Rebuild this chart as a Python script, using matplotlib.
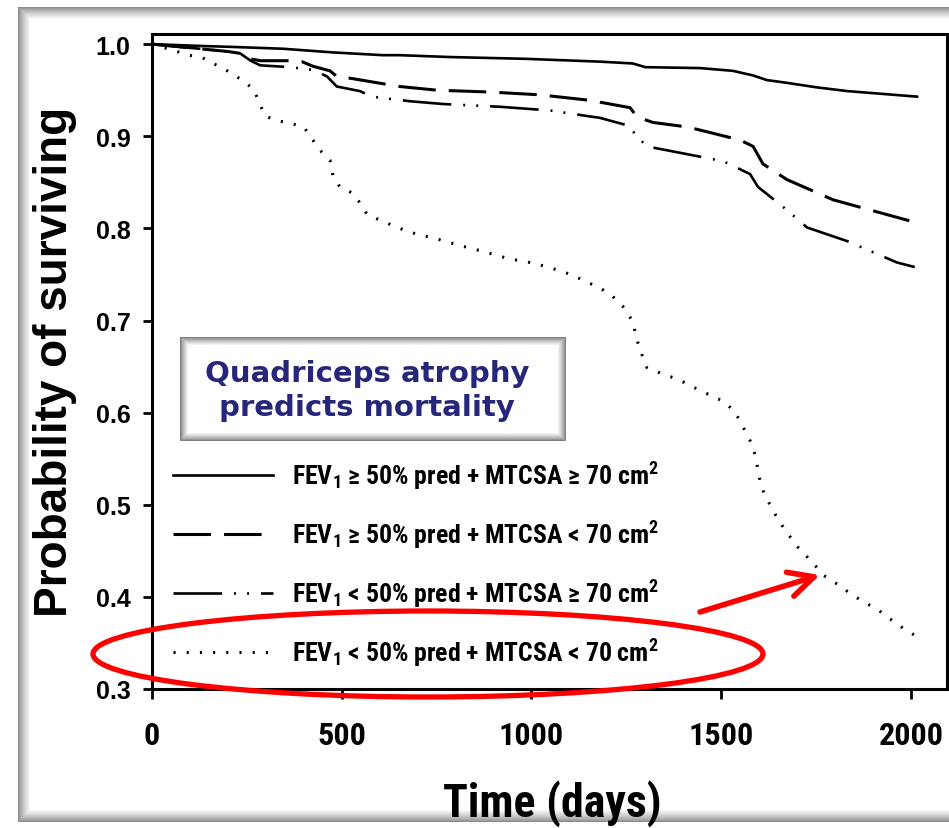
import os
import matplotlib
matplotlib.use("Agg")
import matplotlib.pyplot as plt
from matplotlib import font_manager
from matplotlib.patches import Rectangle, Ellipse
from matplotlib.font_manager import FontProperties

# ---- Kaplan-Meier survival estimates (time in days, probability of surviving) ----
t_hi_hi = [0, 130, 210, 345, 477, 609, 653, 785, 988, 1180, 1267, 1300, 1444,
           1531, 1584, 1620, 1673, 1753, 1833, 2016]
s_hi_hi = [1.0, 0.998, 0.997, 0.995, 0.991, 0.988, 0.988, 0.986, 0.984, 0.981,
           0.979, 0.975, 0.974, 0.971, 0.966, 0.961, 0.958, 0.953, 0.949, 0.943]

t_hi_lo = [0, 200, 232, 260, 285, 364, 395, 424, 469, 487, 522, 609, 653, 751,
           891, 1022, 1154, 1260, 1278, 1320, 1412, 1549, 1584, 1610, 1673, 1795, 2016]
s_hi_lo = [1.0, 0.992, 0.990, 0.984, 0.982, 0.982, 0.981, 0.976, 0.971, 0.965,
           0.963, 0.957, 0.954, 0.950, 0.948, 0.945, 0.939, 0.931, 0.921, 0.915,
           0.910, 0.896, 0.889, 0.870, 0.853, 0.831, 0.806]

t_lo_hi = [0, 200, 232, 260, 285, 364, 424, 461, 487, 548, 580, 680, 767, 917,
           1049, 1146, 1180, 1260, 1273, 1304, 1505, 1576, 1597, 1673, 1726, 1833,
           1963, 2010]
s_lo_hi = [1.0, 0.992, 0.990, 0.982, 0.977, 0.975, 0.972, 0.965, 0.954, 0.949,
           0.943, 0.938, 0.935, 0.932, 0.928, 0.922, 0.920, 0.911, 0.902, 0.889,
           0.873, 0.859, 0.845, 0.820, 0.801, 0.786, 0.763, 0.758]

t_lo_lo = [0, 66, 97, 134, 171, 203, 237, 268, 285, 298, 329, 366, 400, 419, 440,
           469, 477, 495, 530, 551, 567, 601, 635, 672, 704, 738, 772, 806, 872,
           941, 1009, 1075, 1110, 1144, 1178, 1212, 1244, 1268, 1275, 1288, 1304,
           1339, 1373, 1407, 1439, 1476, 1507, 1536, 1557, 1578, 1592, 1597, 1607,
           1626, 1647, 1671, 1702, 1739, 1771, 1805, 1839, 1873, 1910, 1942, 1976,
           2011]
s_lo_lo = [1.0, 0.992, 0.988, 0.985, 0.977, 0.970, 0.961, 0.951, 0.934, 0.922,
           0.917, 0.914, 0.910, 0.899, 0.886, 0.874, 0.857, 0.845, 0.838, 0.826,
           0.815, 0.809, 0.803, 0.797, 0.793, 0.790, 0.786, 0.782, 0.775, 0.767,
           0.762, 0.754, 0.749, 0.742, 0.736, 0.727, 0.714, 0.698, 0.683, 0.666,
           0.649, 0.643, 0.638, 0.632, 0.625, 0.618, 0.612, 0.601, 0.585, 0.568,
           0.551, 0.536, 0.518, 0.502, 0.486, 0.471, 0.454, 0.438, 0.423, 0.414,
           0.404, 0.395, 0.387, 0.377, 0.367, 0.358]

group_labels = [
    r"FEV$_1$ ≥ 50% pred + MTCSA ≥ 70 cm$^2$",
    r"FEV$_1$ ≥ 50% pred + MTCSA < 70 cm$^2$",
    r"FEV$_1$ < 50% pred + MTCSA ≥ 70 cm$^2$",
    r"FEV$_1$ < 50% pred + MTCSA < 70 cm$^2$",
]
x_ticks = [0, 500, 1000, 1500, 2000]
y_ticks = [0.3, 0.4, 0.5, 0.6, 0.7, 0.8, 0.9, 1.0]
y_ticklabels = ["0.3", "0.4", "0.5", "0.6", "0.7", "0.8", "0.9", "1.0"]
callout = "Quadriceps atrophy\npredicts mortality"

# ---- fonts: look for a narrow sans face for axis numbers and legend ----
entries = font_manager.fontManager.ttflist


def find_face(patterns):
    for pat in patterns:
        for e in entries:
            if os.path.basename(e.fname).lower() == pat:
                return e
    return None


narrow_bold = find_face(["liberationsansnarrow-bold.ttf",
                         "robotocondensed-bold.ttf",
                         "notosans-condensedbold.ttf",
                         "dejavusanscondensed-bold.ttf",
                         "opensans-condensedbold.ttf",
                         "opensans_condensed-bold.ttf"])


def narrow_font(size):
    if narrow_bold is None:
        return FontProperties(family="Liberation Sans", weight="bold", size=size)
    return FontProperties(fname=narrow_bold.fname, size=size)


math_family = narrow_bold.name if narrow_bold is not None else "Liberation Sans"
plt.rcParams["lines.scale_dashes"] = False
plt.rcParams["mathtext.fontset"] = "custom"
plt.rcParams["mathtext.rm"] = f"{math_family}:bold"
plt.rcParams["mathtext.bf"] = f"{math_family}:bold"
plt.rcParams["mathtext.it"] = f"{math_family}:bold"
plt.rcParams["mathtext.default"] = "rm"

W, H = 949, 829
fig = plt.figure(figsize=(W / 100, H / 100), dpi=100)
fig.patch.set_facecolor("white")
renderer = fig.canvas.get_renderer()


def text_box(s, fp):
    t = fig.text(0, 0, s, fontproperties=fp)
    bb = t.get_window_extent(renderer)
    t.remove()
    return bb.width, bb.height


def size_for_width(s, target_px):
    """Point size at which string s spans target_px pixels."""
    w, _ = text_box(s, narrow_font(20))
    return 20 * target_px / w


def shadow_box(axp, x0, y0, x1, y1, band, dark):
    """Rectangle whose edge fades from grey to white (inner shadow)."""
    for i in range(band):
        c = dark + (1 - dark) * (i / (band - 1)) ** 0.8
        axp.add_patch(Rectangle((x0 + i, y0 + i), (x1 - x0) - 2 * i,
                                (y1 - y0) - 2 * i, facecolor=str(c),
                                edgecolor="none"))


# background layer in pixel units: slide frame
bg = fig.add_axes([0, 0, 1, 1], zorder=0)
bg.set_xlim(0, W)
bg.set_ylim(H, 0)
bg.axis("off")
shadow_box(bg, 18, 8, 962, 823, 13, 0.55)

# ---- main survival plot ----
ax = fig.add_axes([152 / W, 1 - 690 / H, (947 - 152) / W, (690 - 35) / H], zorder=2)
ax.set_facecolor("white")

lw = 1.9
l1, = ax.plot(t_hi_hi, s_hi_hi, color="black", lw=lw, linestyle="-")
l2, = ax.plot(t_hi_lo, s_hi_lo, color="black", lw=lw + 0.3,
              linestyle=(0, (27, 9.4)))
l3, = ax.plot(t_lo_hi, s_lo_hi, color="black", lw=lw,
              linestyle=(0, (35, 8.6, 1.4, 8, 1.4, 8.6)))
l4, = ax.plot(t_lo_lo, s_lo_lo, color="black", lw=2.2,
              linestyle=(0, (1.5, 8.0)))

ax.set_xlim(0, 2095)
ax.set_ylim(0.3, 1.011)
ax.set_xticks(x_ticks)
ax.set_xticklabels([str(v) for v in x_ticks])
ax.set_yticks(y_ticks)
ax.set_yticklabels(y_ticklabels)
for sp in ax.spines.values():
    sp.set_linewidth(2.2)
ax.tick_params(axis="x", direction="out", length=7, width=2, pad=15)
ax.tick_params(axis="y", direction="out", length=6.5, width=2, pad=9)

xtick_size = min(size_for_width("2000", 65), 24)
for lab in ax.get_xticklabels():
    lab.set_fontproperties(narrow_font(xtick_size))
for lab in ax.get_yticklabels():
    lab.set_fontfamily("Liberation Sans")
    lab.set_fontweight("bold")
    lab.set_fontsize(18)

# legend sized so that each entry spans the same width and row pitch
leg_size = size_for_width(group_labels[0], 366)
leg_px = leg_size * 100 / 72
_, row_h = text_box(group_labels[0], narrow_font(leg_size))
leg = ax.legend([l1, l2, l3, l4], group_labels, loc="upper left",
                bbox_to_anchor=((173 - 152) / 795, (690 - (476 - row_h / 2)) / 655),
                frameon=False, borderpad=0, borderaxespad=0,
                handlelength=100 / leg_px, handletextpad=19 / leg_px,
                labelspacing=max(59 - row_h, 4) / leg_px,
                prop=narrow_font(leg_size))

# axis titles
fig.text(55 / W, 1 - 362 / H, "Probability of surviving", rotation=90,
         ha="center", va="center", fontsize=33, fontweight="bold",
         family="Liberation Sans")
xl_size = min(size_for_width("Time (days)", 218), 38)
fig.text(552 / W, 1 - 817 / H, "Time (days)", ha="center", va="baseline",
         fontproperties=narrow_font(xl_size))

# ---- overlay: callout box, ellipse and arrow ----
ov = fig.add_axes([0, 0, 1, 1], zorder=5)
ov.set_xlim(0, W)
ov.set_ylim(H, 0)
ov.axis("off")
shadow_box(ov, 180, 338, 566, 442, 9, 0.5)
ov.text(367, 391, callout, ha="center", va="center", fontsize=21,
        fontweight="bold", family="DejaVu Sans", color="#26267a",
        linespacing=1.25)
ov.add_patch(Ellipse((428, 655), 670, 86, fill=False, edgecolor="#ff0000",
                     lw=3.8))
ov.annotate("", xy=(820, 576), xytext=(700, 613),
            arrowprops=dict(arrowstyle="->,head_length=1.0,head_width=0.5",
                            color="#ff0000", lw=4, mutation_scale=18,
                            shrinkA=0, shrinkB=0))

fig.savefig("out.png", dpi=100)
